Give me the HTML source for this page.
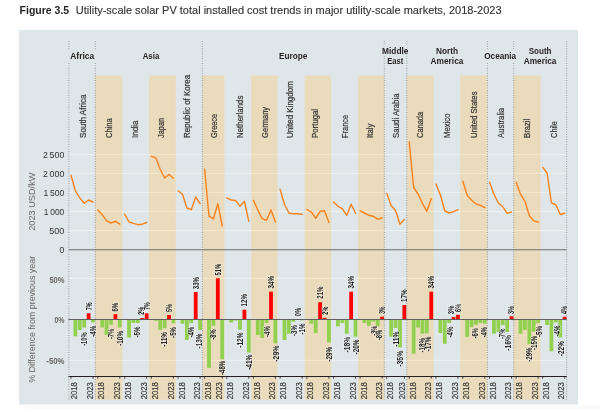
<!DOCTYPE html><html><head><meta charset="utf-8"><title>Figure 3.5</title><style>html,body{margin:0;padding:0;background:#fff;}svg{display:block;}text{font-family:'Liberation Sans', Arial, sans-serif;}</style></head><body>
<svg width="600" height="409" viewBox="0 0 600 409">
<rect x="0" y="0" width="600" height="409" fill="#fff"/>
<rect x="25" y="405.5" width="575" height="4" fill="#fafafa"/>
<text x="19.6" y="13.7" font-size="10" font-weight="bold" fill="#231f20" textLength="49.6" lengthAdjust="spacingAndGlyphs">Figure 3.5</text>
<text x="75.8" y="13.7" font-size="10" fill="#333" stroke="#333" stroke-width="0.12" textLength="425.8" lengthAdjust="spacingAndGlyphs">Utility-scale solar PV total installed cost trends in major utility-scale markets, 2018-2023</text>
<rect x="19" y="30" width="559" height="374.6" fill="#dfe6e9"/>
<rect x="95.30" y="75.5" width="27.00" height="324.3" fill="#eadbbc"/>
<rect x="149.00" y="75.5" width="26.80" height="324.3" fill="#eadbbc"/>
<rect x="202.40" y="75.5" width="22.00" height="324.3" fill="#eadbbc"/>
<rect x="251.20" y="75.5" width="26.40" height="324.3" fill="#eadbbc"/>
<rect x="304.60" y="75.5" width="26.60" height="324.3" fill="#eadbbc"/>
<rect x="357.90" y="75.5" width="26.40" height="324.3" fill="#eadbbc"/>
<rect x="406.80" y="75.5" width="26.90" height="324.3" fill="#eadbbc"/>
<rect x="460.20" y="75.5" width="27.20" height="324.3" fill="#eadbbc"/>
<rect x="513.70" y="75.5" width="26.90" height="324.3" fill="#eadbbc"/>
<line x1="69.50" x2="95.30" y1="230.56" y2="230.56" stroke="#ecf0f3" stroke-width="1.2"/>
<line x1="95.30" x2="122.30" y1="230.56" y2="230.56" stroke="#f6e7cc" stroke-width="1.2"/>
<line x1="122.30" x2="149.00" y1="230.56" y2="230.56" stroke="#ecf0f3" stroke-width="1.2"/>
<line x1="149.00" x2="175.80" y1="230.56" y2="230.56" stroke="#f6e7cc" stroke-width="1.2"/>
<line x1="175.80" x2="202.40" y1="230.56" y2="230.56" stroke="#ecf0f3" stroke-width="1.2"/>
<line x1="202.40" x2="224.40" y1="230.56" y2="230.56" stroke="#f6e7cc" stroke-width="1.2"/>
<line x1="224.40" x2="251.20" y1="230.56" y2="230.56" stroke="#ecf0f3" stroke-width="1.2"/>
<line x1="251.20" x2="277.60" y1="230.56" y2="230.56" stroke="#f6e7cc" stroke-width="1.2"/>
<line x1="277.60" x2="304.60" y1="230.56" y2="230.56" stroke="#ecf0f3" stroke-width="1.2"/>
<line x1="304.60" x2="331.20" y1="230.56" y2="230.56" stroke="#f6e7cc" stroke-width="1.2"/>
<line x1="331.20" x2="357.90" y1="230.56" y2="230.56" stroke="#ecf0f3" stroke-width="1.2"/>
<line x1="357.90" x2="384.30" y1="230.56" y2="230.56" stroke="#f6e7cc" stroke-width="1.2"/>
<line x1="384.30" x2="406.80" y1="230.56" y2="230.56" stroke="#ecf0f3" stroke-width="1.2"/>
<line x1="406.80" x2="433.70" y1="230.56" y2="230.56" stroke="#f6e7cc" stroke-width="1.2"/>
<line x1="433.70" x2="460.20" y1="230.56" y2="230.56" stroke="#ecf0f3" stroke-width="1.2"/>
<line x1="460.20" x2="487.40" y1="230.56" y2="230.56" stroke="#f6e7cc" stroke-width="1.2"/>
<line x1="487.40" x2="513.70" y1="230.56" y2="230.56" stroke="#ecf0f3" stroke-width="1.2"/>
<line x1="513.70" x2="540.60" y1="230.56" y2="230.56" stroke="#f6e7cc" stroke-width="1.2"/>
<line x1="540.60" x2="566.70" y1="230.56" y2="230.56" stroke="#ecf0f3" stroke-width="1.2"/>
<line x1="69.50" x2="95.30" y1="211.52" y2="211.52" stroke="#ecf0f3" stroke-width="1.2"/>
<line x1="95.30" x2="122.30" y1="211.52" y2="211.52" stroke="#f6e7cc" stroke-width="1.2"/>
<line x1="122.30" x2="149.00" y1="211.52" y2="211.52" stroke="#ecf0f3" stroke-width="1.2"/>
<line x1="149.00" x2="175.80" y1="211.52" y2="211.52" stroke="#f6e7cc" stroke-width="1.2"/>
<line x1="175.80" x2="202.40" y1="211.52" y2="211.52" stroke="#ecf0f3" stroke-width="1.2"/>
<line x1="202.40" x2="224.40" y1="211.52" y2="211.52" stroke="#f6e7cc" stroke-width="1.2"/>
<line x1="224.40" x2="251.20" y1="211.52" y2="211.52" stroke="#ecf0f3" stroke-width="1.2"/>
<line x1="251.20" x2="277.60" y1="211.52" y2="211.52" stroke="#f6e7cc" stroke-width="1.2"/>
<line x1="277.60" x2="304.60" y1="211.52" y2="211.52" stroke="#ecf0f3" stroke-width="1.2"/>
<line x1="304.60" x2="331.20" y1="211.52" y2="211.52" stroke="#f6e7cc" stroke-width="1.2"/>
<line x1="331.20" x2="357.90" y1="211.52" y2="211.52" stroke="#ecf0f3" stroke-width="1.2"/>
<line x1="357.90" x2="384.30" y1="211.52" y2="211.52" stroke="#f6e7cc" stroke-width="1.2"/>
<line x1="384.30" x2="406.80" y1="211.52" y2="211.52" stroke="#ecf0f3" stroke-width="1.2"/>
<line x1="406.80" x2="433.70" y1="211.52" y2="211.52" stroke="#f6e7cc" stroke-width="1.2"/>
<line x1="433.70" x2="460.20" y1="211.52" y2="211.52" stroke="#ecf0f3" stroke-width="1.2"/>
<line x1="460.20" x2="487.40" y1="211.52" y2="211.52" stroke="#f6e7cc" stroke-width="1.2"/>
<line x1="487.40" x2="513.70" y1="211.52" y2="211.52" stroke="#ecf0f3" stroke-width="1.2"/>
<line x1="513.70" x2="540.60" y1="211.52" y2="211.52" stroke="#f6e7cc" stroke-width="1.2"/>
<line x1="540.60" x2="566.70" y1="211.52" y2="211.52" stroke="#ecf0f3" stroke-width="1.2"/>
<line x1="69.50" x2="95.30" y1="192.48" y2="192.48" stroke="#ecf0f3" stroke-width="1.2"/>
<line x1="95.30" x2="122.30" y1="192.48" y2="192.48" stroke="#f6e7cc" stroke-width="1.2"/>
<line x1="122.30" x2="149.00" y1="192.48" y2="192.48" stroke="#ecf0f3" stroke-width="1.2"/>
<line x1="149.00" x2="175.80" y1="192.48" y2="192.48" stroke="#f6e7cc" stroke-width="1.2"/>
<line x1="175.80" x2="202.40" y1="192.48" y2="192.48" stroke="#ecf0f3" stroke-width="1.2"/>
<line x1="202.40" x2="224.40" y1="192.48" y2="192.48" stroke="#f6e7cc" stroke-width="1.2"/>
<line x1="224.40" x2="251.20" y1="192.48" y2="192.48" stroke="#ecf0f3" stroke-width="1.2"/>
<line x1="251.20" x2="277.60" y1="192.48" y2="192.48" stroke="#f6e7cc" stroke-width="1.2"/>
<line x1="277.60" x2="304.60" y1="192.48" y2="192.48" stroke="#ecf0f3" stroke-width="1.2"/>
<line x1="304.60" x2="331.20" y1="192.48" y2="192.48" stroke="#f6e7cc" stroke-width="1.2"/>
<line x1="331.20" x2="357.90" y1="192.48" y2="192.48" stroke="#ecf0f3" stroke-width="1.2"/>
<line x1="357.90" x2="384.30" y1="192.48" y2="192.48" stroke="#f6e7cc" stroke-width="1.2"/>
<line x1="384.30" x2="406.80" y1="192.48" y2="192.48" stroke="#ecf0f3" stroke-width="1.2"/>
<line x1="406.80" x2="433.70" y1="192.48" y2="192.48" stroke="#f6e7cc" stroke-width="1.2"/>
<line x1="433.70" x2="460.20" y1="192.48" y2="192.48" stroke="#ecf0f3" stroke-width="1.2"/>
<line x1="460.20" x2="487.40" y1="192.48" y2="192.48" stroke="#f6e7cc" stroke-width="1.2"/>
<line x1="487.40" x2="513.70" y1="192.48" y2="192.48" stroke="#ecf0f3" stroke-width="1.2"/>
<line x1="513.70" x2="540.60" y1="192.48" y2="192.48" stroke="#f6e7cc" stroke-width="1.2"/>
<line x1="540.60" x2="566.70" y1="192.48" y2="192.48" stroke="#ecf0f3" stroke-width="1.2"/>
<line x1="69.50" x2="95.30" y1="173.44" y2="173.44" stroke="#ecf0f3" stroke-width="1.2"/>
<line x1="95.30" x2="122.30" y1="173.44" y2="173.44" stroke="#f6e7cc" stroke-width="1.2"/>
<line x1="122.30" x2="149.00" y1="173.44" y2="173.44" stroke="#ecf0f3" stroke-width="1.2"/>
<line x1="149.00" x2="175.80" y1="173.44" y2="173.44" stroke="#f6e7cc" stroke-width="1.2"/>
<line x1="175.80" x2="202.40" y1="173.44" y2="173.44" stroke="#ecf0f3" stroke-width="1.2"/>
<line x1="202.40" x2="224.40" y1="173.44" y2="173.44" stroke="#f6e7cc" stroke-width="1.2"/>
<line x1="224.40" x2="251.20" y1="173.44" y2="173.44" stroke="#ecf0f3" stroke-width="1.2"/>
<line x1="251.20" x2="277.60" y1="173.44" y2="173.44" stroke="#f6e7cc" stroke-width="1.2"/>
<line x1="277.60" x2="304.60" y1="173.44" y2="173.44" stroke="#ecf0f3" stroke-width="1.2"/>
<line x1="304.60" x2="331.20" y1="173.44" y2="173.44" stroke="#f6e7cc" stroke-width="1.2"/>
<line x1="331.20" x2="357.90" y1="173.44" y2="173.44" stroke="#ecf0f3" stroke-width="1.2"/>
<line x1="357.90" x2="384.30" y1="173.44" y2="173.44" stroke="#f6e7cc" stroke-width="1.2"/>
<line x1="384.30" x2="406.80" y1="173.44" y2="173.44" stroke="#ecf0f3" stroke-width="1.2"/>
<line x1="406.80" x2="433.70" y1="173.44" y2="173.44" stroke="#f6e7cc" stroke-width="1.2"/>
<line x1="433.70" x2="460.20" y1="173.44" y2="173.44" stroke="#ecf0f3" stroke-width="1.2"/>
<line x1="460.20" x2="487.40" y1="173.44" y2="173.44" stroke="#f6e7cc" stroke-width="1.2"/>
<line x1="487.40" x2="513.70" y1="173.44" y2="173.44" stroke="#ecf0f3" stroke-width="1.2"/>
<line x1="513.70" x2="540.60" y1="173.44" y2="173.44" stroke="#f6e7cc" stroke-width="1.2"/>
<line x1="540.60" x2="566.70" y1="173.44" y2="173.44" stroke="#ecf0f3" stroke-width="1.2"/>
<line x1="69.50" x2="95.30" y1="154.40" y2="154.40" stroke="#ecf0f3" stroke-width="1.2"/>
<line x1="95.30" x2="122.30" y1="154.40" y2="154.40" stroke="#f6e7cc" stroke-width="1.2"/>
<line x1="122.30" x2="149.00" y1="154.40" y2="154.40" stroke="#ecf0f3" stroke-width="1.2"/>
<line x1="149.00" x2="175.80" y1="154.40" y2="154.40" stroke="#f6e7cc" stroke-width="1.2"/>
<line x1="175.80" x2="202.40" y1="154.40" y2="154.40" stroke="#ecf0f3" stroke-width="1.2"/>
<line x1="202.40" x2="224.40" y1="154.40" y2="154.40" stroke="#f6e7cc" stroke-width="1.2"/>
<line x1="224.40" x2="251.20" y1="154.40" y2="154.40" stroke="#ecf0f3" stroke-width="1.2"/>
<line x1="251.20" x2="277.60" y1="154.40" y2="154.40" stroke="#f6e7cc" stroke-width="1.2"/>
<line x1="277.60" x2="304.60" y1="154.40" y2="154.40" stroke="#ecf0f3" stroke-width="1.2"/>
<line x1="304.60" x2="331.20" y1="154.40" y2="154.40" stroke="#f6e7cc" stroke-width="1.2"/>
<line x1="331.20" x2="357.90" y1="154.40" y2="154.40" stroke="#ecf0f3" stroke-width="1.2"/>
<line x1="357.90" x2="384.30" y1="154.40" y2="154.40" stroke="#f6e7cc" stroke-width="1.2"/>
<line x1="384.30" x2="406.80" y1="154.40" y2="154.40" stroke="#ecf0f3" stroke-width="1.2"/>
<line x1="406.80" x2="433.70" y1="154.40" y2="154.40" stroke="#f6e7cc" stroke-width="1.2"/>
<line x1="433.70" x2="460.20" y1="154.40" y2="154.40" stroke="#ecf0f3" stroke-width="1.2"/>
<line x1="460.20" x2="487.40" y1="154.40" y2="154.40" stroke="#f6e7cc" stroke-width="1.2"/>
<line x1="487.40" x2="513.70" y1="154.40" y2="154.40" stroke="#ecf0f3" stroke-width="1.2"/>
<line x1="513.70" x2="540.60" y1="154.40" y2="154.40" stroke="#f6e7cc" stroke-width="1.2"/>
<line x1="540.60" x2="566.70" y1="154.40" y2="154.40" stroke="#ecf0f3" stroke-width="1.2"/>
<line x1="69.50" x2="95.30" y1="278.40" y2="278.40" stroke="#ecf0f3" stroke-width="1.2"/>
<line x1="95.30" x2="122.30" y1="278.40" y2="278.40" stroke="#f6e7cc" stroke-width="1.2"/>
<line x1="122.30" x2="149.00" y1="278.40" y2="278.40" stroke="#ecf0f3" stroke-width="1.2"/>
<line x1="149.00" x2="175.80" y1="278.40" y2="278.40" stroke="#f6e7cc" stroke-width="1.2"/>
<line x1="175.80" x2="202.40" y1="278.40" y2="278.40" stroke="#ecf0f3" stroke-width="1.2"/>
<line x1="202.40" x2="224.40" y1="278.40" y2="278.40" stroke="#f6e7cc" stroke-width="1.2"/>
<line x1="224.40" x2="251.20" y1="278.40" y2="278.40" stroke="#ecf0f3" stroke-width="1.2"/>
<line x1="251.20" x2="277.60" y1="278.40" y2="278.40" stroke="#f6e7cc" stroke-width="1.2"/>
<line x1="277.60" x2="304.60" y1="278.40" y2="278.40" stroke="#ecf0f3" stroke-width="1.2"/>
<line x1="304.60" x2="331.20" y1="278.40" y2="278.40" stroke="#f6e7cc" stroke-width="1.2"/>
<line x1="331.20" x2="357.90" y1="278.40" y2="278.40" stroke="#ecf0f3" stroke-width="1.2"/>
<line x1="357.90" x2="384.30" y1="278.40" y2="278.40" stroke="#f6e7cc" stroke-width="1.2"/>
<line x1="384.30" x2="406.80" y1="278.40" y2="278.40" stroke="#ecf0f3" stroke-width="1.2"/>
<line x1="406.80" x2="433.70" y1="278.40" y2="278.40" stroke="#f6e7cc" stroke-width="1.2"/>
<line x1="433.70" x2="460.20" y1="278.40" y2="278.40" stroke="#ecf0f3" stroke-width="1.2"/>
<line x1="460.20" x2="487.40" y1="278.40" y2="278.40" stroke="#f6e7cc" stroke-width="1.2"/>
<line x1="487.40" x2="513.70" y1="278.40" y2="278.40" stroke="#ecf0f3" stroke-width="1.2"/>
<line x1="513.70" x2="540.60" y1="278.40" y2="278.40" stroke="#f6e7cc" stroke-width="1.2"/>
<line x1="540.60" x2="566.70" y1="278.40" y2="278.40" stroke="#ecf0f3" stroke-width="1.2"/>
<line x1="69.50" x2="95.30" y1="360.40" y2="360.40" stroke="#ecf0f3" stroke-width="1.2"/>
<line x1="95.30" x2="122.30" y1="360.40" y2="360.40" stroke="#f6e7cc" stroke-width="1.2"/>
<line x1="122.30" x2="149.00" y1="360.40" y2="360.40" stroke="#ecf0f3" stroke-width="1.2"/>
<line x1="149.00" x2="175.80" y1="360.40" y2="360.40" stroke="#f6e7cc" stroke-width="1.2"/>
<line x1="175.80" x2="202.40" y1="360.40" y2="360.40" stroke="#ecf0f3" stroke-width="1.2"/>
<line x1="202.40" x2="224.40" y1="360.40" y2="360.40" stroke="#f6e7cc" stroke-width="1.2"/>
<line x1="224.40" x2="251.20" y1="360.40" y2="360.40" stroke="#ecf0f3" stroke-width="1.2"/>
<line x1="251.20" x2="277.60" y1="360.40" y2="360.40" stroke="#f6e7cc" stroke-width="1.2"/>
<line x1="277.60" x2="304.60" y1="360.40" y2="360.40" stroke="#ecf0f3" stroke-width="1.2"/>
<line x1="304.60" x2="331.20" y1="360.40" y2="360.40" stroke="#f6e7cc" stroke-width="1.2"/>
<line x1="331.20" x2="357.90" y1="360.40" y2="360.40" stroke="#ecf0f3" stroke-width="1.2"/>
<line x1="357.90" x2="384.30" y1="360.40" y2="360.40" stroke="#f6e7cc" stroke-width="1.2"/>
<line x1="384.30" x2="406.80" y1="360.40" y2="360.40" stroke="#ecf0f3" stroke-width="1.2"/>
<line x1="406.80" x2="433.70" y1="360.40" y2="360.40" stroke="#f6e7cc" stroke-width="1.2"/>
<line x1="433.70" x2="460.20" y1="360.40" y2="360.40" stroke="#ecf0f3" stroke-width="1.2"/>
<line x1="460.20" x2="487.40" y1="360.40" y2="360.40" stroke="#f6e7cc" stroke-width="1.2"/>
<line x1="487.40" x2="513.70" y1="360.40" y2="360.40" stroke="#ecf0f3" stroke-width="1.2"/>
<line x1="513.70" x2="540.60" y1="360.40" y2="360.40" stroke="#f6e7cc" stroke-width="1.2"/>
<line x1="540.60" x2="566.70" y1="360.40" y2="360.40" stroke="#ecf0f3" stroke-width="1.2"/>
<line x1="68.90" x2="68.90" y1="41" y2="400" stroke="#7d8084" stroke-width="0.85" stroke-dasharray="0.85 1.6"/>
<line x1="95.30" x2="95.30" y1="41" y2="400" stroke="#7d8084" stroke-width="0.85" stroke-dasharray="0.85 1.6"/>
<line x1="202.40" x2="202.40" y1="41" y2="400" stroke="#7d8084" stroke-width="0.85" stroke-dasharray="0.85 1.6"/>
<line x1="384.30" x2="384.30" y1="41" y2="400" stroke="#7d8084" stroke-width="0.85" stroke-dasharray="0.85 1.6"/>
<line x1="406.80" x2="406.80" y1="41" y2="400" stroke="#7d8084" stroke-width="0.85" stroke-dasharray="0.85 1.6"/>
<line x1="487.40" x2="487.40" y1="41" y2="400" stroke="#7d8084" stroke-width="0.85" stroke-dasharray="0.85 1.6"/>
<line x1="513.70" x2="513.70" y1="41" y2="400" stroke="#7d8084" stroke-width="0.85" stroke-dasharray="0.85 1.6"/>
<line x1="566.60" x2="566.60" y1="41" y2="400" stroke="#7d8084" stroke-width="0.85" stroke-dasharray="0.85 1.6"/>
<line x1="68.7" x2="566.7" y1="249.7" y2="249.7" stroke="#6e6e6e" stroke-width="1.1"/>
<rect x="73.50" y="319.50" width="3.8" height="16.80" fill="#92d050"/>
<rect x="77.90" y="319.50" width="3.8" height="10.50" fill="#92d050"/>
<rect x="82.30" y="319.50" width="3.8" height="8.00" fill="#92d050"/>
<rect x="86.70" y="313.30" width="3.8" height="6.20" fill="#ff0000"/>
<rect x="91.10" y="319.50" width="3.8" height="3.00" fill="#92d050"/>
<polyline points="71.00,175.30 75.40,190.80 79.80,198.00 84.20,203.30 88.60,200.00 93.00,202.00" fill="none" stroke="#f7821f" stroke-width="1.4" stroke-linejoin="round" stroke-linecap="round"/>
<rect x="100.30" y="319.50" width="3.8" height="8.00" fill="#92d050"/>
<rect x="104.70" y="319.50" width="3.8" height="15.50" fill="#92d050"/>
<rect x="109.10" y="319.50" width="3.8" height="5.20" fill="#92d050"/>
<rect x="113.50" y="314.20" width="3.8" height="5.30" fill="#ff0000"/>
<rect x="117.90" y="319.50" width="3.8" height="8.00" fill="#92d050"/>
<polyline points="97.80,210.00 102.20,214.70 106.60,220.80 111.00,223.00 115.40,221.30 119.80,224.20" fill="none" stroke="#f7821f" stroke-width="1.4" stroke-linejoin="round" stroke-linecap="round"/>
<rect x="127.15" y="319.50" width="3.8" height="18.00" fill="#92d050"/>
<rect x="131.55" y="319.50" width="3.8" height="3.50" fill="#92d050"/>
<rect x="135.95" y="319.50" width="3.8" height="3.50" fill="#92d050"/>
<rect x="140.35" y="318.00" width="3.8" height="1.50" fill="#ff0000"/>
<rect x="144.75" y="313.30" width="3.8" height="6.20" fill="#ff0000"/>
<polyline points="124.65,214.20 129.05,222.00 133.45,223.30 137.85,224.70 142.25,224.20 146.65,222.50" fill="none" stroke="#f7821f" stroke-width="1.4" stroke-linejoin="round" stroke-linecap="round"/>
<rect x="153.90" y="319.50" width="3.8" height="1.30" fill="#92d050"/>
<rect x="158.30" y="319.50" width="3.8" height="10.50" fill="#92d050"/>
<rect x="162.70" y="319.50" width="3.8" height="8.80" fill="#92d050"/>
<rect x="167.10" y="315.00" width="3.8" height="4.50" fill="#ff0000"/>
<rect x="171.50" y="319.50" width="3.8" height="3.80" fill="#92d050"/>
<polyline points="151.40,156.30 155.80,157.80 160.20,169.20 164.60,178.00 169.00,174.50 173.40,178.30" fill="none" stroke="#f7821f" stroke-width="1.4" stroke-linejoin="round" stroke-linecap="round"/>
<rect x="180.60" y="319.50" width="3.8" height="4.30" fill="#92d050"/>
<rect x="185.00" y="319.50" width="3.8" height="20.50" fill="#92d050"/>
<rect x="189.40" y="319.50" width="3.8" height="3.50" fill="#92d050"/>
<rect x="193.80" y="292.00" width="3.8" height="27.50" fill="#ff0000"/>
<rect x="198.20" y="319.50" width="3.8" height="10.50" fill="#92d050"/>
<polyline points="178.10,190.80 182.50,194.20 186.90,208.00 191.30,209.70 195.70,197.00 200.10,203.70" fill="none" stroke="#f7821f" stroke-width="1.4" stroke-linejoin="round" stroke-linecap="round"/>
<rect x="207.10" y="319.50" width="3.8" height="48.30" fill="#92d050"/>
<rect x="211.50" y="319.50" width="3.8" height="6.30" fill="#92d050"/>
<rect x="215.90" y="278.30" width="3.8" height="41.20" fill="#ff0000"/>
<rect x="220.30" y="319.50" width="3.8" height="39.70" fill="#92d050"/>
<polyline points="204.60,169.20 209.00,216.20 213.40,218.70 217.80,203.70 222.20,225.80" fill="none" stroke="#f7821f" stroke-width="1.4" stroke-linejoin="round" stroke-linecap="round"/>
<rect x="229.30" y="319.50" width="3.8" height="3.00" fill="#92d050"/>
<rect x="233.70" y="319.50" width="3.8" height="1.00" fill="#92d050"/>
<rect x="238.10" y="319.50" width="3.8" height="10.20" fill="#92d050"/>
<rect x="242.50" y="309.70" width="3.8" height="9.80" fill="#ff0000"/>
<rect x="246.90" y="319.50" width="3.8" height="33.00" fill="#92d050"/>
<polyline points="226.80,197.80 231.20,200.00 235.60,200.50 240.00,206.30 244.40,201.30 248.80,221.30" fill="none" stroke="#f7821f" stroke-width="1.4" stroke-linejoin="round" stroke-linecap="round"/>
<rect x="255.90" y="319.50" width="3.8" height="15.50" fill="#92d050"/>
<rect x="260.30" y="319.50" width="3.8" height="18.50" fill="#92d050"/>
<rect x="264.70" y="319.50" width="3.8" height="3.50" fill="#92d050"/>
<rect x="269.10" y="291.70" width="3.8" height="27.80" fill="#ff0000"/>
<rect x="273.50" y="319.50" width="3.8" height="23.80" fill="#92d050"/>
<polyline points="253.40,200.30 257.80,210.00 262.20,218.70 266.60,220.30 271.00,210.00 275.40,222.00" fill="none" stroke="#f7821f" stroke-width="1.4" stroke-linejoin="round" stroke-linecap="round"/>
<rect x="282.60" y="319.50" width="3.8" height="20.50" fill="#92d050"/>
<rect x="287.00" y="319.50" width="3.8" height="14.30" fill="#92d050"/>
<rect x="291.40" y="319.50" width="3.8" height="2.20" fill="#92d050"/>
<rect x="295.80" y="319.20" width="3.8" height="0.30" fill="#ff0000"/>
<rect x="300.20" y="319.50" width="3.8" height="0.80" fill="#92d050"/>
<polyline points="280.10,189.20 284.50,204.50 288.90,213.00 293.30,213.70 297.70,213.70 302.10,214.20" fill="none" stroke="#f7821f" stroke-width="1.4" stroke-linejoin="round" stroke-linecap="round"/>
<rect x="309.40" y="319.50" width="3.8" height="4.20" fill="#92d050"/>
<rect x="313.80" y="319.50" width="3.8" height="13.50" fill="#92d050"/>
<rect x="318.20" y="302.20" width="3.8" height="17.30" fill="#ff0000"/>
<rect x="322.60" y="317.80" width="3.8" height="1.70" fill="#ff0000"/>
<rect x="327.00" y="319.50" width="3.8" height="23.00" fill="#92d050"/>
<polyline points="306.90,209.70 311.30,212.00 315.70,218.30 320.10,211.30 324.50,210.80 328.90,222.50" fill="none" stroke="#f7821f" stroke-width="1.4" stroke-linejoin="round" stroke-linecap="round"/>
<rect x="336.05" y="319.50" width="3.8" height="6.80" fill="#92d050"/>
<rect x="340.45" y="319.50" width="3.8" height="3.50" fill="#92d050"/>
<rect x="344.85" y="319.50" width="3.8" height="14.20" fill="#92d050"/>
<rect x="349.25" y="291.70" width="3.8" height="27.80" fill="#ff0000"/>
<rect x="353.65" y="319.50" width="3.8" height="17.20" fill="#92d050"/>
<polyline points="333.55,202.00 337.95,206.30 342.35,208.70 346.75,215.30 351.15,204.20 355.55,213.30" fill="none" stroke="#f7821f" stroke-width="1.4" stroke-linejoin="round" stroke-linecap="round"/>
<rect x="362.60" y="319.50" width="3.8" height="3.50" fill="#92d050"/>
<rect x="367.00" y="319.50" width="3.8" height="6.30" fill="#92d050"/>
<rect x="371.40" y="319.50" width="3.8" height="2.20" fill="#92d050"/>
<rect x="375.80" y="319.50" width="3.8" height="6.80" fill="#92d050"/>
<rect x="380.20" y="316.70" width="3.8" height="2.80" fill="#ff0000"/>
<polyline points="360.10,210.80 364.50,213.00 368.90,215.30 373.30,216.30 377.70,219.20 382.10,218.00" fill="none" stroke="#f7821f" stroke-width="1.4" stroke-linejoin="round" stroke-linecap="round"/>
<rect x="389.25" y="319.50" width="3.8" height="17.20" fill="#92d050"/>
<rect x="393.65" y="319.50" width="3.8" height="8.50" fill="#92d050"/>
<rect x="398.05" y="319.50" width="3.8" height="28.00" fill="#92d050"/>
<rect x="402.45" y="305.00" width="3.8" height="14.50" fill="#ff0000"/>
<polyline points="386.75,193.30 391.15,205.50 395.55,210.50 399.95,224.20 404.35,219.50" fill="none" stroke="#f7821f" stroke-width="1.4" stroke-linejoin="round" stroke-linecap="round"/>
<rect x="411.75" y="319.50" width="3.8" height="34.20" fill="#92d050"/>
<rect x="416.15" y="319.50" width="3.8" height="8.00" fill="#92d050"/>
<rect x="420.55" y="319.50" width="3.8" height="14.20" fill="#92d050"/>
<rect x="424.95" y="319.50" width="3.8" height="13.80" fill="#92d050"/>
<rect x="429.35" y="291.70" width="3.8" height="27.80" fill="#ff0000"/>
<polyline points="409.25,142.00 413.65,187.50 418.05,194.00 422.45,203.30 426.85,211.30 431.25,198.70" fill="none" stroke="#f7821f" stroke-width="1.4" stroke-linejoin="round" stroke-linecap="round"/>
<rect x="438.45" y="319.50" width="3.8" height="13.50" fill="#92d050"/>
<rect x="442.85" y="319.50" width="3.8" height="24.30" fill="#92d050"/>
<rect x="447.25" y="319.50" width="3.8" height="3.50" fill="#92d050"/>
<rect x="451.65" y="317.00" width="3.8" height="2.50" fill="#ff0000"/>
<rect x="456.05" y="314.80" width="3.8" height="4.70" fill="#ff0000"/>
<polyline points="435.95,184.00 440.35,194.70 444.75,210.80 449.15,213.00 453.55,211.70 457.95,209.70" fill="none" stroke="#f7821f" stroke-width="1.4" stroke-linejoin="round" stroke-linecap="round"/>
<rect x="465.30" y="319.50" width="3.8" height="17.30" fill="#92d050"/>
<rect x="469.70" y="319.50" width="3.8" height="7.40" fill="#92d050"/>
<rect x="474.10" y="319.50" width="3.8" height="5.20" fill="#92d050"/>
<rect x="478.50" y="319.50" width="3.8" height="3.50" fill="#92d050"/>
<rect x="482.90" y="319.50" width="3.8" height="4.10" fill="#92d050"/>
<polyline points="462.80,181.20 467.20,195.20 471.60,200.30 476.00,204.00 480.40,205.30 484.80,207.50" fill="none" stroke="#f7821f" stroke-width="1.4" stroke-linejoin="round" stroke-linecap="round"/>
<rect x="492.05" y="319.50" width="3.8" height="14.20" fill="#92d050"/>
<rect x="496.45" y="319.50" width="3.8" height="12.50" fill="#92d050"/>
<rect x="500.85" y="319.50" width="3.8" height="5.50" fill="#92d050"/>
<rect x="505.25" y="319.50" width="3.8" height="12.50" fill="#92d050"/>
<rect x="509.65" y="316.30" width="3.8" height="3.20" fill="#ff0000"/>
<polyline points="489.55,182.20 493.95,194.20 498.35,203.00 502.75,206.70 507.15,213.30 511.55,212.00" fill="none" stroke="#f7821f" stroke-width="1.4" stroke-linejoin="round" stroke-linecap="round"/>
<rect x="518.65" y="319.50" width="3.8" height="14.20" fill="#92d050"/>
<rect x="523.05" y="319.50" width="3.8" height="10.50" fill="#92d050"/>
<rect x="527.45" y="319.50" width="3.8" height="24.70" fill="#92d050"/>
<rect x="531.85" y="319.50" width="3.8" height="12.20" fill="#92d050"/>
<rect x="536.25" y="319.50" width="3.8" height="3.50" fill="#92d050"/>
<polyline points="516.15,182.20 520.55,194.20 524.95,201.30 529.35,215.80 533.75,220.80 538.15,222.20" fill="none" stroke="#f7821f" stroke-width="1.4" stroke-linejoin="round" stroke-linecap="round"/>
<rect x="545.15" y="319.50" width="3.8" height="5.50" fill="#92d050"/>
<rect x="549.55" y="319.50" width="3.8" height="31.80" fill="#92d050"/>
<rect x="553.95" y="319.50" width="3.8" height="3.00" fill="#92d050"/>
<rect x="558.35" y="319.50" width="3.8" height="18.00" fill="#92d050"/>
<rect x="562.75" y="316.70" width="3.8" height="2.80" fill="#ff0000"/>
<polyline points="542.65,167.20 547.05,173.00 551.45,203.00 555.85,204.70 560.25,214.50 564.65,213.30" fill="none" stroke="#f7821f" stroke-width="1.4" stroke-linejoin="round" stroke-linecap="round"/>
<line x1="68.3" x2="566.7" y1="319.5" y2="319.5" stroke="#606060" stroke-width="1"/>
<line x1="68.5" x2="566.9" y1="376.5" y2="376.5" stroke="#231f20" stroke-width="1.1"/>
<line x1="71.00" x2="71.00" y1="376.5" y2="378.8" stroke="#231f20" stroke-width="0.8"/>
<line x1="93.00" x2="93.00" y1="376.5" y2="378.8" stroke="#231f20" stroke-width="0.8"/>
<text transform="translate(77.40,399.2) rotate(-90)" font-size="8.8" fill="#333" stroke="#333" stroke-width="0.15" textLength="17" lengthAdjust="spacingAndGlyphs">2018</text>
<text transform="translate(93.00,399.2) rotate(-90)" font-size="8.8" fill="#333" stroke="#333" stroke-width="0.15" textLength="17" lengthAdjust="spacingAndGlyphs">2023</text>
<line x1="97.80" x2="97.80" y1="376.5" y2="378.8" stroke="#231f20" stroke-width="0.8"/>
<line x1="119.80" x2="119.80" y1="376.5" y2="378.8" stroke="#231f20" stroke-width="0.8"/>
<text transform="translate(104.00,399.2) rotate(-90)" font-size="8.8" fill="#333" stroke="#333" stroke-width="0.15" textLength="17" lengthAdjust="spacingAndGlyphs">2018</text>
<text transform="translate(120.00,399.2) rotate(-90)" font-size="8.8" fill="#333" stroke="#333" stroke-width="0.15" textLength="17" lengthAdjust="spacingAndGlyphs">2023</text>
<line x1="124.65" x2="124.65" y1="376.5" y2="378.8" stroke="#231f20" stroke-width="0.8"/>
<line x1="146.65" x2="146.65" y1="376.5" y2="378.8" stroke="#231f20" stroke-width="0.8"/>
<text transform="translate(131.00,399.2) rotate(-90)" font-size="8.8" fill="#333" stroke="#333" stroke-width="0.15" textLength="17" lengthAdjust="spacingAndGlyphs">2018</text>
<text transform="translate(146.70,399.2) rotate(-90)" font-size="8.8" fill="#333" stroke="#333" stroke-width="0.15" textLength="17" lengthAdjust="spacingAndGlyphs">2023</text>
<line x1="151.40" x2="151.40" y1="376.5" y2="378.8" stroke="#231f20" stroke-width="0.8"/>
<line x1="173.40" x2="173.40" y1="376.5" y2="378.8" stroke="#231f20" stroke-width="0.8"/>
<text transform="translate(157.70,399.2) rotate(-90)" font-size="8.8" fill="#333" stroke="#333" stroke-width="0.15" textLength="17" lengthAdjust="spacingAndGlyphs">2018</text>
<text transform="translate(173.50,399.2) rotate(-90)" font-size="8.8" fill="#333" stroke="#333" stroke-width="0.15" textLength="17" lengthAdjust="spacingAndGlyphs">2023</text>
<line x1="178.10" x2="178.10" y1="376.5" y2="378.8" stroke="#231f20" stroke-width="0.8"/>
<line x1="200.10" x2="200.10" y1="376.5" y2="378.8" stroke="#231f20" stroke-width="0.8"/>
<text transform="translate(184.50,399.2) rotate(-90)" font-size="8.8" fill="#333" stroke="#333" stroke-width="0.15" textLength="17" lengthAdjust="spacingAndGlyphs">2018</text>
<text transform="translate(200.10,399.2) rotate(-90)" font-size="8.8" fill="#333" stroke="#333" stroke-width="0.15" textLength="17" lengthAdjust="spacingAndGlyphs">2023</text>
<line x1="204.60" x2="204.60" y1="376.5" y2="378.8" stroke="#231f20" stroke-width="0.8"/>
<line x1="222.20" x2="222.20" y1="376.5" y2="378.8" stroke="#231f20" stroke-width="0.8"/>
<text transform="translate(211.10,399.2) rotate(-90)" font-size="8.8" fill="#333" stroke="#333" stroke-width="0.15" textLength="17" lengthAdjust="spacingAndGlyphs">2018</text>
<text transform="translate(222.10,399.2) rotate(-90)" font-size="8.8" fill="#333" stroke="#333" stroke-width="0.15" textLength="17" lengthAdjust="spacingAndGlyphs">2023</text>
<line x1="226.80" x2="226.80" y1="376.5" y2="378.8" stroke="#231f20" stroke-width="0.8"/>
<line x1="248.80" x2="248.80" y1="376.5" y2="378.8" stroke="#231f20" stroke-width="0.8"/>
<text transform="translate(233.10,399.2) rotate(-90)" font-size="8.8" fill="#333" stroke="#333" stroke-width="0.15" textLength="17" lengthAdjust="spacingAndGlyphs">2018</text>
<text transform="translate(248.90,399.2) rotate(-90)" font-size="8.8" fill="#333" stroke="#333" stroke-width="0.15" textLength="17" lengthAdjust="spacingAndGlyphs">2023</text>
<line x1="253.40" x2="253.40" y1="376.5" y2="378.8" stroke="#231f20" stroke-width="0.8"/>
<line x1="275.40" x2="275.40" y1="376.5" y2="378.8" stroke="#231f20" stroke-width="0.8"/>
<text transform="translate(259.90,399.2) rotate(-90)" font-size="8.8" fill="#333" stroke="#333" stroke-width="0.15" textLength="17" lengthAdjust="spacingAndGlyphs">2018</text>
<text transform="translate(275.30,399.2) rotate(-90)" font-size="8.8" fill="#333" stroke="#333" stroke-width="0.15" textLength="17" lengthAdjust="spacingAndGlyphs">2023</text>
<line x1="280.10" x2="280.10" y1="376.5" y2="378.8" stroke="#231f20" stroke-width="0.8"/>
<line x1="302.10" x2="302.10" y1="376.5" y2="378.8" stroke="#231f20" stroke-width="0.8"/>
<text transform="translate(286.30,399.2) rotate(-90)" font-size="8.8" fill="#333" stroke="#333" stroke-width="0.15" textLength="17" lengthAdjust="spacingAndGlyphs">2018</text>
<text transform="translate(302.30,399.2) rotate(-90)" font-size="8.8" fill="#333" stroke="#333" stroke-width="0.15" textLength="17" lengthAdjust="spacingAndGlyphs">2023</text>
<line x1="306.90" x2="306.90" y1="376.5" y2="378.8" stroke="#231f20" stroke-width="0.8"/>
<line x1="328.90" x2="328.90" y1="376.5" y2="378.8" stroke="#231f20" stroke-width="0.8"/>
<text transform="translate(313.30,399.2) rotate(-90)" font-size="8.8" fill="#333" stroke="#333" stroke-width="0.15" textLength="17" lengthAdjust="spacingAndGlyphs">2018</text>
<text transform="translate(328.90,399.2) rotate(-90)" font-size="8.8" fill="#333" stroke="#333" stroke-width="0.15" textLength="17" lengthAdjust="spacingAndGlyphs">2023</text>
<line x1="333.55" x2="333.55" y1="376.5" y2="378.8" stroke="#231f20" stroke-width="0.8"/>
<line x1="355.55" x2="355.55" y1="376.5" y2="378.8" stroke="#231f20" stroke-width="0.8"/>
<text transform="translate(339.90,399.2) rotate(-90)" font-size="8.8" fill="#333" stroke="#333" stroke-width="0.15" textLength="17" lengthAdjust="spacingAndGlyphs">2018</text>
<text transform="translate(355.60,399.2) rotate(-90)" font-size="8.8" fill="#333" stroke="#333" stroke-width="0.15" textLength="17" lengthAdjust="spacingAndGlyphs">2023</text>
<line x1="360.10" x2="360.10" y1="376.5" y2="378.8" stroke="#231f20" stroke-width="0.8"/>
<line x1="382.10" x2="382.10" y1="376.5" y2="378.8" stroke="#231f20" stroke-width="0.8"/>
<text transform="translate(366.60,399.2) rotate(-90)" font-size="8.8" fill="#333" stroke="#333" stroke-width="0.15" textLength="17" lengthAdjust="spacingAndGlyphs">2018</text>
<text transform="translate(382.00,399.2) rotate(-90)" font-size="8.8" fill="#333" stroke="#333" stroke-width="0.15" textLength="17" lengthAdjust="spacingAndGlyphs">2023</text>
<line x1="386.75" x2="386.75" y1="376.5" y2="378.8" stroke="#231f20" stroke-width="0.8"/>
<line x1="404.35" x2="404.35" y1="376.5" y2="378.8" stroke="#231f20" stroke-width="0.8"/>
<text transform="translate(393.00,399.2) rotate(-90)" font-size="8.8" fill="#333" stroke="#333" stroke-width="0.15" textLength="17" lengthAdjust="spacingAndGlyphs">2018</text>
<text transform="translate(404.50,399.2) rotate(-90)" font-size="8.8" fill="#333" stroke="#333" stroke-width="0.15" textLength="17" lengthAdjust="spacingAndGlyphs">2023</text>
<line x1="409.25" x2="409.25" y1="376.5" y2="378.8" stroke="#231f20" stroke-width="0.8"/>
<line x1="431.25" x2="431.25" y1="376.5" y2="378.8" stroke="#231f20" stroke-width="0.8"/>
<text transform="translate(415.50,399.2) rotate(-90)" font-size="8.8" fill="#333" stroke="#333" stroke-width="0.15" textLength="17" lengthAdjust="spacingAndGlyphs">2018</text>
<text transform="translate(431.40,399.2) rotate(-90)" font-size="8.8" fill="#333" stroke="#333" stroke-width="0.15" textLength="17" lengthAdjust="spacingAndGlyphs">2023</text>
<line x1="435.95" x2="435.95" y1="376.5" y2="378.8" stroke="#231f20" stroke-width="0.8"/>
<line x1="457.95" x2="457.95" y1="376.5" y2="378.8" stroke="#231f20" stroke-width="0.8"/>
<text transform="translate(442.40,399.2) rotate(-90)" font-size="8.8" fill="#333" stroke="#333" stroke-width="0.15" textLength="17" lengthAdjust="spacingAndGlyphs">2018</text>
<text transform="translate(457.90,399.2) rotate(-90)" font-size="8.8" fill="#333" stroke="#333" stroke-width="0.15" textLength="17" lengthAdjust="spacingAndGlyphs">2023</text>
<line x1="462.80" x2="462.80" y1="376.5" y2="378.8" stroke="#231f20" stroke-width="0.8"/>
<line x1="484.80" x2="484.80" y1="376.5" y2="378.8" stroke="#231f20" stroke-width="0.8"/>
<text transform="translate(468.90,399.2) rotate(-90)" font-size="8.8" fill="#333" stroke="#333" stroke-width="0.15" textLength="17" lengthAdjust="spacingAndGlyphs">2018</text>
<text transform="translate(485.10,399.2) rotate(-90)" font-size="8.8" fill="#333" stroke="#333" stroke-width="0.15" textLength="17" lengthAdjust="spacingAndGlyphs">2023</text>
<line x1="489.55" x2="489.55" y1="376.5" y2="378.8" stroke="#231f20" stroke-width="0.8"/>
<line x1="511.55" x2="511.55" y1="376.5" y2="378.8" stroke="#231f20" stroke-width="0.8"/>
<text transform="translate(496.10,399.2) rotate(-90)" font-size="8.8" fill="#333" stroke="#333" stroke-width="0.15" textLength="17" lengthAdjust="spacingAndGlyphs">2018</text>
<text transform="translate(511.40,399.2) rotate(-90)" font-size="8.8" fill="#333" stroke="#333" stroke-width="0.15" textLength="17" lengthAdjust="spacingAndGlyphs">2023</text>
<line x1="516.15" x2="516.15" y1="376.5" y2="378.8" stroke="#231f20" stroke-width="0.8"/>
<line x1="538.15" x2="538.15" y1="376.5" y2="378.8" stroke="#231f20" stroke-width="0.8"/>
<text transform="translate(522.40,399.2) rotate(-90)" font-size="8.8" fill="#333" stroke="#333" stroke-width="0.15" textLength="17" lengthAdjust="spacingAndGlyphs">2018</text>
<text transform="translate(538.30,399.2) rotate(-90)" font-size="8.8" fill="#333" stroke="#333" stroke-width="0.15" textLength="17" lengthAdjust="spacingAndGlyphs">2023</text>
<line x1="542.65" x2="542.65" y1="376.5" y2="378.8" stroke="#231f20" stroke-width="0.8"/>
<line x1="564.65" x2="564.65" y1="376.5" y2="378.8" stroke="#231f20" stroke-width="0.8"/>
<text transform="translate(549.30,399.2) rotate(-90)" font-size="8.8" fill="#333" stroke="#333" stroke-width="0.15" textLength="17" lengthAdjust="spacingAndGlyphs">2018</text>
<text transform="translate(564.40,399.2) rotate(-90)" font-size="8.8" fill="#333" stroke="#333" stroke-width="0.15" textLength="17" lengthAdjust="spacingAndGlyphs">2023</text>
<text transform="translate(85.80,137.9) rotate(-90)" font-size="8.2" fill="#333" stroke="#333" stroke-width="0.2" textLength="43.3" lengthAdjust="spacingAndGlyphs">South Africa</text>
<text transform="translate(112.00,137.9) rotate(-90)" font-size="8.2" fill="#333" stroke="#333" stroke-width="0.2" textLength="19.6" lengthAdjust="spacingAndGlyphs">China</text>
<text transform="translate(138.30,137.9) rotate(-90)" font-size="8.2" fill="#333" stroke="#333" stroke-width="0.2" textLength="17.5" lengthAdjust="spacingAndGlyphs">India</text>
<text transform="translate(164.20,137.9) rotate(-90)" font-size="8.2" fill="#333" stroke="#333" stroke-width="0.2" textLength="20.0" lengthAdjust="spacingAndGlyphs">Japan</text>
<text transform="translate(190.10,137.9) rotate(-90)" font-size="8.2" fill="#333" stroke="#333" stroke-width="0.2" textLength="63.0" lengthAdjust="spacingAndGlyphs">Republic of Korea</text>
<text transform="translate(216.70,137.9) rotate(-90)" font-size="8.2" fill="#333" stroke="#333" stroke-width="0.2" textLength="23.9" lengthAdjust="spacingAndGlyphs">Greece</text>
<text transform="translate(242.80,137.9) rotate(-90)" font-size="8.2" fill="#333" stroke="#333" stroke-width="0.2" textLength="42.2" lengthAdjust="spacingAndGlyphs">Netherlands</text>
<text transform="translate(267.90,137.9) rotate(-90)" font-size="8.2" fill="#333" stroke="#333" stroke-width="0.2" textLength="31.0" lengthAdjust="spacingAndGlyphs">Germany</text>
<text transform="translate(293.40,137.9) rotate(-90)" font-size="8.2" fill="#333" stroke="#333" stroke-width="0.2" textLength="56.7" lengthAdjust="spacingAndGlyphs">United Kingdom</text>
<text transform="translate(318.40,137.9) rotate(-90)" font-size="8.2" fill="#333" stroke="#333" stroke-width="0.2" textLength="29.0" lengthAdjust="spacingAndGlyphs">Portugal</text>
<text transform="translate(348.00,137.9) rotate(-90)" font-size="8.2" fill="#333" stroke="#333" stroke-width="0.2" textLength="23.0" lengthAdjust="spacingAndGlyphs">France</text>
<text transform="translate(372.60,137.9) rotate(-90)" font-size="8.2" fill="#333" stroke="#333" stroke-width="0.2" textLength="14.4" lengthAdjust="spacingAndGlyphs">Italy</text>
<text transform="translate(399.20,137.9) rotate(-90)" font-size="8.2" fill="#333" stroke="#333" stroke-width="0.2" textLength="44.5" lengthAdjust="spacingAndGlyphs">Saudi Arabia</text>
<text transform="translate(423.30,137.9) rotate(-90)" font-size="8.2" fill="#333" stroke="#333" stroke-width="0.2" textLength="26.0" lengthAdjust="spacingAndGlyphs">Canada</text>
<text transform="translate(450.00,137.9) rotate(-90)" font-size="8.2" fill="#333" stroke="#333" stroke-width="0.2" textLength="24.4" lengthAdjust="spacingAndGlyphs">Mexico</text>
<text transform="translate(477.00,137.9) rotate(-90)" font-size="8.2" fill="#333" stroke="#333" stroke-width="0.2" textLength="46.4" lengthAdjust="spacingAndGlyphs">United States</text>
<text transform="translate(503.70,137.9) rotate(-90)" font-size="8.2" fill="#333" stroke="#333" stroke-width="0.2" textLength="30.0" lengthAdjust="spacingAndGlyphs">Australia</text>
<text transform="translate(530.00,137.9) rotate(-90)" font-size="8.2" fill="#333" stroke="#333" stroke-width="0.2" textLength="19.0" lengthAdjust="spacingAndGlyphs">Brazil</text>
<text transform="translate(556.70,137.9) rotate(-90)" font-size="8.2" fill="#333" stroke="#333" stroke-width="0.2" textLength="16.7" lengthAdjust="spacingAndGlyphs">Chile</text>
<text transform="translate(87.30,345.80) rotate(-90)" font-size="8.6" font-weight="bold" fill="#222" stroke="#fff" stroke-opacity="0.4" stroke-width="1.6" stroke-linejoin="round" paint-order="stroke" textLength="13.3" lengthAdjust="spacingAndGlyphs">-10%</text>
<text transform="translate(92.00,310.30) rotate(-90)" font-size="8.6" font-weight="bold" fill="#222" stroke="#fff" stroke-opacity="0.4" stroke-width="1.6" stroke-linejoin="round" paint-order="stroke" textLength="7.8" lengthAdjust="spacingAndGlyphs">7%</text>
<text transform="translate(96.10,336.70) rotate(-90)" font-size="8.6" font-weight="bold" fill="#222" stroke="#fff" stroke-opacity="0.4" stroke-width="1.6" stroke-linejoin="round" paint-order="stroke" textLength="10.9" lengthAdjust="spacingAndGlyphs">-4%</text>
<text transform="translate(113.80,339.10) rotate(-90)" font-size="8.6" font-weight="bold" fill="#222" stroke="#fff" stroke-opacity="0.4" stroke-width="1.6" stroke-linejoin="round" paint-order="stroke" textLength="10.1" lengthAdjust="spacingAndGlyphs">-7%</text>
<text transform="translate(118.20,311.60) rotate(-90)" font-size="8.6" font-weight="bold" fill="#222" stroke="#fff" stroke-opacity="0.4" stroke-width="1.6" stroke-linejoin="round" paint-order="stroke" textLength="8.8" lengthAdjust="spacingAndGlyphs">6%</text>
<text transform="translate(122.60,345.80) rotate(-90)" font-size="8.6" font-weight="bold" fill="#222" stroke="#fff" stroke-opacity="0.4" stroke-width="1.6" stroke-linejoin="round" paint-order="stroke" textLength="14.9" lengthAdjust="spacingAndGlyphs">-10%</text>
<text transform="translate(140.20,337.50) rotate(-90)" font-size="8.6" font-weight="bold" fill="#222" stroke="#fff" stroke-opacity="0.4" stroke-width="1.6" stroke-linejoin="round" paint-order="stroke" textLength="11.0" lengthAdjust="spacingAndGlyphs">-5%</text>
<text transform="translate(143.50,314.80) rotate(-90)" font-size="8.6" font-weight="bold" fill="#222" stroke="#fff" stroke-opacity="0.4" stroke-width="1.6" stroke-linejoin="round" paint-order="stroke" textLength="7.9" lengthAdjust="spacingAndGlyphs">2%</text>
<text transform="translate(149.90,310.00) rotate(-90)" font-size="8.6" font-weight="bold" fill="#222" stroke="#fff" stroke-opacity="0.4" stroke-width="1.6" stroke-linejoin="round" paint-order="stroke" textLength="7.7" lengthAdjust="spacingAndGlyphs">7%</text>
<text transform="translate(166.80,346.70) rotate(-90)" font-size="8.6" font-weight="bold" fill="#222" stroke="#fff" stroke-opacity="0.4" stroke-width="1.6" stroke-linejoin="round" paint-order="stroke" textLength="14.7" lengthAdjust="spacingAndGlyphs">-11%</text>
<text transform="translate(171.50,312.00) rotate(-90)" font-size="8.6" font-weight="bold" fill="#222" stroke="#fff" stroke-opacity="0.4" stroke-width="1.6" stroke-linejoin="round" paint-order="stroke" textLength="8.0" lengthAdjust="spacingAndGlyphs">5%</text>
<text transform="translate(176.00,337.90) rotate(-90)" font-size="8.6" font-weight="bold" fill="#222" stroke="#fff" stroke-opacity="0.4" stroke-width="1.6" stroke-linejoin="round" paint-order="stroke" textLength="11.0" lengthAdjust="spacingAndGlyphs">-5%</text>
<text transform="translate(194.10,337.60) rotate(-90)" font-size="8.6" font-weight="bold" fill="#222" stroke="#fff" stroke-opacity="0.4" stroke-width="1.6" stroke-linejoin="round" paint-order="stroke" textLength="10.9" lengthAdjust="spacingAndGlyphs">-4%</text>
<text transform="translate(199.00,289.20) rotate(-90)" font-size="8.6" font-weight="bold" fill="#222" stroke="#fff" stroke-opacity="0.4" stroke-width="1.6" stroke-linejoin="round" paint-order="stroke" textLength="12.2" lengthAdjust="spacingAndGlyphs">33%</text>
<text transform="translate(202.30,348.40) rotate(-90)" font-size="8.6" font-weight="bold" fill="#222" stroke="#fff" stroke-opacity="0.4" stroke-width="1.6" stroke-linejoin="round" paint-order="stroke" textLength="14.6" lengthAdjust="spacingAndGlyphs">-13%</text>
<text transform="translate(216.00,339.70) rotate(-90)" font-size="8.6" font-weight="bold" fill="#222" stroke="#fff" stroke-opacity="0.4" stroke-width="1.6" stroke-linejoin="round" paint-order="stroke" textLength="10.2" lengthAdjust="spacingAndGlyphs">-8%</text>
<text transform="translate(220.60,275.50) rotate(-90)" font-size="8.6" font-weight="bold" fill="#222" stroke="#fff" stroke-opacity="0.4" stroke-width="1.6" stroke-linejoin="round" paint-order="stroke" textLength="11.7" lengthAdjust="spacingAndGlyphs">51%</text>
<text transform="translate(225.00,375.00) rotate(-90)" font-size="8.6" font-weight="bold" fill="#222" stroke="#fff" stroke-opacity="0.4" stroke-width="1.6" stroke-linejoin="round" paint-order="stroke" textLength="14.2" lengthAdjust="spacingAndGlyphs">-48%</text>
<text transform="translate(243.30,347.70) rotate(-90)" font-size="8.6" font-weight="bold" fill="#222" stroke="#fff" stroke-opacity="0.4" stroke-width="1.6" stroke-linejoin="round" paint-order="stroke" textLength="15.2" lengthAdjust="spacingAndGlyphs">-12%</text>
<text transform="translate(247.30,306.50) rotate(-90)" font-size="8.6" font-weight="bold" fill="#222" stroke="#fff" stroke-opacity="0.4" stroke-width="1.6" stroke-linejoin="round" paint-order="stroke" textLength="12.5" lengthAdjust="spacingAndGlyphs">12%</text>
<text transform="translate(252.30,370.00) rotate(-90)" font-size="8.6" font-weight="bold" fill="#222" stroke="#fff" stroke-opacity="0.4" stroke-width="1.6" stroke-linejoin="round" paint-order="stroke" textLength="15.5" lengthAdjust="spacingAndGlyphs">-41%</text>
<text transform="translate(270.00,337.00) rotate(-90)" font-size="8.6" font-weight="bold" fill="#222" stroke="#fff" stroke-opacity="0.4" stroke-width="1.6" stroke-linejoin="round" paint-order="stroke" textLength="11.0" lengthAdjust="spacingAndGlyphs">-4%</text>
<text transform="translate(274.00,288.50) rotate(-90)" font-size="8.6" font-weight="bold" fill="#222" stroke="#fff" stroke-opacity="0.4" stroke-width="1.6" stroke-linejoin="round" paint-order="stroke" textLength="12.5" lengthAdjust="spacingAndGlyphs">34%</text>
<text transform="translate(279.00,361.70) rotate(-90)" font-size="8.6" font-weight="bold" fill="#222" stroke="#fff" stroke-opacity="0.4" stroke-width="1.6" stroke-linejoin="round" paint-order="stroke" textLength="16.2" lengthAdjust="spacingAndGlyphs">-29%</text>
<text transform="translate(296.60,336.00) rotate(-90)" font-size="8.6" font-weight="bold" fill="#222" stroke="#fff" stroke-opacity="0.4" stroke-width="1.6" stroke-linejoin="round" paint-order="stroke" textLength="11.0" lengthAdjust="spacingAndGlyphs">-3%</text>
<text transform="translate(301.10,316.30) rotate(-90)" font-size="8.6" font-weight="bold" fill="#222" stroke="#fff" stroke-opacity="0.4" stroke-width="1.6" stroke-linejoin="round" paint-order="stroke" textLength="8.3" lengthAdjust="spacingAndGlyphs">0%</text>
<text transform="translate(305.30,334.50) rotate(-90)" font-size="8.6" font-weight="bold" fill="#222" stroke="#fff" stroke-opacity="0.4" stroke-width="1.6" stroke-linejoin="round" paint-order="stroke" textLength="11.0" lengthAdjust="spacingAndGlyphs">-1%</text>
<text transform="translate(322.80,298.70) rotate(-90)" font-size="8.6" font-weight="bold" fill="#222" stroke="#fff" stroke-opacity="0.4" stroke-width="1.6" stroke-linejoin="round" paint-order="stroke" textLength="12.0" lengthAdjust="spacingAndGlyphs">21%</text>
<text transform="translate(327.50,314.70) rotate(-90)" font-size="8.6" font-weight="bold" fill="#222" stroke="#fff" stroke-opacity="0.4" stroke-width="1.6" stroke-linejoin="round" paint-order="stroke" textLength="8.0" lengthAdjust="spacingAndGlyphs">2%</text>
<text transform="translate(331.50,361.70) rotate(-90)" font-size="8.6" font-weight="bold" fill="#222" stroke="#fff" stroke-opacity="0.4" stroke-width="1.6" stroke-linejoin="round" paint-order="stroke" textLength="15.0" lengthAdjust="spacingAndGlyphs">-29%</text>
<text transform="translate(350.00,352.50) rotate(-90)" font-size="8.6" font-weight="bold" fill="#222" stroke="#fff" stroke-opacity="0.4" stroke-width="1.6" stroke-linejoin="round" paint-order="stroke" textLength="15.8" lengthAdjust="spacingAndGlyphs">-18%</text>
<text transform="translate(353.80,288.50) rotate(-90)" font-size="8.6" font-weight="bold" fill="#222" stroke="#fff" stroke-opacity="0.4" stroke-width="1.6" stroke-linejoin="round" paint-order="stroke" textLength="12.5" lengthAdjust="spacingAndGlyphs">34%</text>
<text transform="translate(359.00,354.50) rotate(-90)" font-size="8.6" font-weight="bold" fill="#222" stroke="#fff" stroke-opacity="0.4" stroke-width="1.6" stroke-linejoin="round" paint-order="stroke" textLength="15.0" lengthAdjust="spacingAndGlyphs">-20%</text>
<text transform="translate(376.50,335.70) rotate(-90)" font-size="8.6" font-weight="bold" fill="#222" stroke="#fff" stroke-opacity="0.4" stroke-width="1.6" stroke-linejoin="round" paint-order="stroke" textLength="9.9" lengthAdjust="spacingAndGlyphs">-3%</text>
<text transform="translate(382.00,340.10) rotate(-90)" font-size="8.6" font-weight="bold" fill="#222" stroke="#fff" stroke-opacity="0.4" stroke-width="1.6" stroke-linejoin="round" paint-order="stroke" textLength="10.4" lengthAdjust="spacingAndGlyphs">-8%</text>
<text transform="translate(384.80,313.70) rotate(-90)" font-size="8.6" font-weight="bold" fill="#222" stroke="#fff" stroke-opacity="0.4" stroke-width="1.6" stroke-linejoin="round" paint-order="stroke" textLength="7.1" lengthAdjust="spacingAndGlyphs">3%</text>
<text transform="translate(399.00,346.70) rotate(-90)" font-size="8.6" font-weight="bold" fill="#222" stroke="#fff" stroke-opacity="0.4" stroke-width="1.6" stroke-linejoin="round" paint-order="stroke" textLength="15.0" lengthAdjust="spacingAndGlyphs">-11%</text>
<text transform="translate(403.10,366.70) rotate(-90)" font-size="8.6" font-weight="bold" fill="#222" stroke="#fff" stroke-opacity="0.4" stroke-width="1.6" stroke-linejoin="round" paint-order="stroke" textLength="15.9" lengthAdjust="spacingAndGlyphs">-35%</text>
<text transform="translate(407.30,302.00) rotate(-90)" font-size="8.6" font-weight="bold" fill="#222" stroke="#fff" stroke-opacity="0.4" stroke-width="1.6" stroke-linejoin="round" paint-order="stroke" textLength="12.5" lengthAdjust="spacingAndGlyphs">17%</text>
<text transform="translate(425.00,352.60) rotate(-90)" font-size="8.6" font-weight="bold" fill="#222" stroke="#fff" stroke-opacity="0.4" stroke-width="1.6" stroke-linejoin="round" paint-order="stroke" textLength="14.8" lengthAdjust="spacingAndGlyphs">-18%</text>
<text transform="translate(431.10,351.50) rotate(-90)" font-size="8.6" font-weight="bold" fill="#222" stroke="#fff" stroke-opacity="0.4" stroke-width="1.6" stroke-linejoin="round" paint-order="stroke" textLength="15.0" lengthAdjust="spacingAndGlyphs">-17%</text>
<text transform="translate(434.00,288.50) rotate(-90)" font-size="8.6" font-weight="bold" fill="#222" stroke="#fff" stroke-opacity="0.4" stroke-width="1.6" stroke-linejoin="round" paint-order="stroke" textLength="12.5" lengthAdjust="spacingAndGlyphs">34%</text>
<text transform="translate(452.50,337.50) rotate(-90)" font-size="8.6" font-weight="bold" fill="#222" stroke="#fff" stroke-opacity="0.4" stroke-width="1.6" stroke-linejoin="round" paint-order="stroke" textLength="10.8" lengthAdjust="spacingAndGlyphs">-4%</text>
<text transform="translate(454.00,314.30) rotate(-90)" font-size="8.6" font-weight="bold" fill="#222" stroke="#fff" stroke-opacity="0.4" stroke-width="1.6" stroke-linejoin="round" paint-order="stroke" textLength="8.6" lengthAdjust="spacingAndGlyphs">3%</text>
<text transform="translate(461.00,311.90) rotate(-90)" font-size="8.6" font-weight="bold" fill="#222" stroke="#fff" stroke-opacity="0.4" stroke-width="1.6" stroke-linejoin="round" paint-order="stroke" textLength="8.1" lengthAdjust="spacingAndGlyphs">6%</text>
<text transform="translate(478.10,338.50) rotate(-90)" font-size="8.6" font-weight="bold" fill="#222" stroke="#fff" stroke-opacity="0.4" stroke-width="1.6" stroke-linejoin="round" paint-order="stroke" textLength="10.5" lengthAdjust="spacingAndGlyphs">-6%</text>
<text transform="translate(486.60,337.40) rotate(-90)" font-size="8.6" font-weight="bold" fill="#222" stroke="#fff" stroke-opacity="0.4" stroke-width="1.6" stroke-linejoin="round" paint-order="stroke" textLength="10.4" lengthAdjust="spacingAndGlyphs">-4%</text>
<text transform="translate(505.30,339.10) rotate(-90)" font-size="8.6" font-weight="bold" fill="#222" stroke="#fff" stroke-opacity="0.4" stroke-width="1.6" stroke-linejoin="round" paint-order="stroke" textLength="10.5" lengthAdjust="spacingAndGlyphs">-7%</text>
<text transform="translate(511.10,350.80) rotate(-90)" font-size="8.6" font-weight="bold" fill="#222" stroke="#fff" stroke-opacity="0.4" stroke-width="1.6" stroke-linejoin="round" paint-order="stroke" textLength="15.8" lengthAdjust="spacingAndGlyphs">-16%</text>
<text transform="translate(514.30,314.00) rotate(-90)" font-size="8.6" font-weight="bold" fill="#222" stroke="#fff" stroke-opacity="0.4" stroke-width="1.6" stroke-linejoin="round" paint-order="stroke" textLength="8.0" lengthAdjust="spacingAndGlyphs">3%</text>
<text transform="translate(531.50,361.70) rotate(-90)" font-size="8.6" font-weight="bold" fill="#222" stroke="#fff" stroke-opacity="0.4" stroke-width="1.6" stroke-linejoin="round" paint-order="stroke" textLength="14.2" lengthAdjust="spacingAndGlyphs">-29%</text>
<text transform="translate(537.00,350.00) rotate(-90)" font-size="8.6" font-weight="bold" fill="#222" stroke="#fff" stroke-opacity="0.4" stroke-width="1.6" stroke-linejoin="round" paint-order="stroke" textLength="14.2" lengthAdjust="spacingAndGlyphs">-15%</text>
<text transform="translate(542.30,337.10) rotate(-90)" font-size="8.6" font-weight="bold" fill="#222" stroke="#fff" stroke-opacity="0.4" stroke-width="1.6" stroke-linejoin="round" paint-order="stroke" textLength="11.2" lengthAdjust="spacingAndGlyphs">-5%</text>
<text transform="translate(559.50,336.50) rotate(-90)" font-size="8.6" font-weight="bold" fill="#222" stroke="#fff" stroke-opacity="0.4" stroke-width="1.6" stroke-linejoin="round" paint-order="stroke" textLength="11.0" lengthAdjust="spacingAndGlyphs">-4%</text>
<text transform="translate(564.00,356.20) rotate(-90)" font-size="8.6" font-weight="bold" fill="#222" stroke="#fff" stroke-opacity="0.4" stroke-width="1.6" stroke-linejoin="round" paint-order="stroke" textLength="15.1" lengthAdjust="spacingAndGlyphs">-22%</text>
<text transform="translate(567.30,314.00) rotate(-90)" font-size="8.6" font-weight="bold" fill="#222" stroke="#fff" stroke-opacity="0.4" stroke-width="1.6" stroke-linejoin="round" paint-order="stroke" textLength="8.0" lengthAdjust="spacingAndGlyphs">4%</text>
<rect x="68.05" y="49.50" width="28.30" height="13.0" fill="#dfe6e9"/>
<text x="82.20" y="58.80" font-size="9.5" font-weight="bold" fill="#231f20" text-anchor="middle" textLength="23.9" lengthAdjust="spacingAndGlyphs">Africa</text>
<rect x="141.90" y="50.80" width="18.20" height="10.0" fill="#dfe6e9"/>
<text x="151.00" y="58.80" font-size="9.5" font-weight="bold" fill="#231f20" text-anchor="middle" textLength="16.6" lengthAdjust="spacingAndGlyphs">Asia</text>
<rect x="278.25" y="50.80" width="29.90" height="10.0" fill="#dfe6e9"/>
<text x="293.20" y="58.80" font-size="9.5" font-weight="bold" fill="#231f20" text-anchor="middle" textLength="28.3" lengthAdjust="spacingAndGlyphs">Europe</text>
<rect x="381.30" y="45.80" width="28.00" height="10.0" fill="#dfe6e9"/>
<text x="395.30" y="53.80" font-size="9.5" font-weight="bold" fill="#231f20" text-anchor="middle" textLength="26.4" lengthAdjust="spacingAndGlyphs">Middle</text>
<rect x="386.45" y="55.60" width="17.70" height="10.0" fill="#dfe6e9"/>
<text x="395.30" y="63.60" font-size="9.5" font-weight="bold" fill="#231f20" text-anchor="middle" textLength="16.1" lengthAdjust="spacingAndGlyphs">East</text>
<rect x="435.15" y="45.90" width="23.70" height="10.0" fill="#dfe6e9"/>
<text x="447.00" y="53.90" font-size="9.5" font-weight="bold" fill="#231f20" text-anchor="middle" textLength="22.1" lengthAdjust="spacingAndGlyphs">North</text>
<rect x="429.80" y="55.80" width="34.40" height="10.0" fill="#dfe6e9"/>
<text x="447.00" y="63.80" font-size="9.5" font-weight="bold" fill="#231f20" text-anchor="middle" textLength="32.8" lengthAdjust="spacingAndGlyphs">America</text>
<rect x="483.00" y="49.50" width="34.40" height="13.0" fill="#dfe6e9"/>
<text x="500.20" y="58.80" font-size="9.5" font-weight="bold" fill="#231f20" text-anchor="middle" textLength="32.0" lengthAdjust="spacingAndGlyphs">Oceania</text>
<rect x="527.85" y="45.90" width="24.50" height="10.0" fill="#dfe6e9"/>
<text x="540.10" y="53.90" font-size="9.5" font-weight="bold" fill="#231f20" text-anchor="middle" textLength="22.9" lengthAdjust="spacingAndGlyphs">South</text>
<rect x="523.00" y="55.80" width="34.20" height="10.0" fill="#dfe6e9"/>
<text x="540.10" y="63.80" font-size="9.5" font-weight="bold" fill="#231f20" text-anchor="middle" textLength="32.6" lengthAdjust="spacingAndGlyphs">America</text>
<text x="64.3" y="252.90" font-size="9.3" fill="#333" text-anchor="end" textLength="4.8" lengthAdjust="spacingAndGlyphs">0</text>
<text x="64.3" y="233.86" font-size="9.3" fill="#333" text-anchor="end" textLength="15.1" lengthAdjust="spacingAndGlyphs">500</text>
<text x="64.3" y="214.82" font-size="9.3" fill="#333" text-anchor="end" textLength="20.5" lengthAdjust="spacingAndGlyphs">1&#8201;000</text>
<text x="64.3" y="195.78" font-size="9.3" fill="#333" text-anchor="end" textLength="20.8" lengthAdjust="spacingAndGlyphs">1&#8201;500</text>
<text x="64.3" y="176.74" font-size="9.3" fill="#333" text-anchor="end" textLength="21.4" lengthAdjust="spacingAndGlyphs">2&#8201;000</text>
<text x="64.3" y="157.70" font-size="9.3" fill="#333" text-anchor="end" textLength="21.4" lengthAdjust="spacingAndGlyphs">2&#8201;500</text>
<text x="64.5" y="282.60" font-size="9" font-weight="bold" fill="#666" text-anchor="end" textLength="15.1" lengthAdjust="spacingAndGlyphs">50%</text>
<text x="64.5" y="323.40" font-size="9" font-weight="bold" fill="#666" text-anchor="end" textLength="10.0" lengthAdjust="spacingAndGlyphs">0%</text>
<text x="64.5" y="364.20" font-size="9" font-weight="bold" fill="#666" text-anchor="end" textLength="18.2" lengthAdjust="spacingAndGlyphs">-50%</text>
<text transform="translate(35.1,201.7) rotate(-90)" font-size="9.8" fill="#666" text-anchor="middle" textLength="58.2" lengthAdjust="spacingAndGlyphs">2023 USD/kW</text>
<text transform="translate(35.1,319.3) rotate(-90)" font-size="9.8" fill="#666" text-anchor="middle" textLength="127" lengthAdjust="spacingAndGlyphs">% Difference from previous year</text>
</svg></body></html>
